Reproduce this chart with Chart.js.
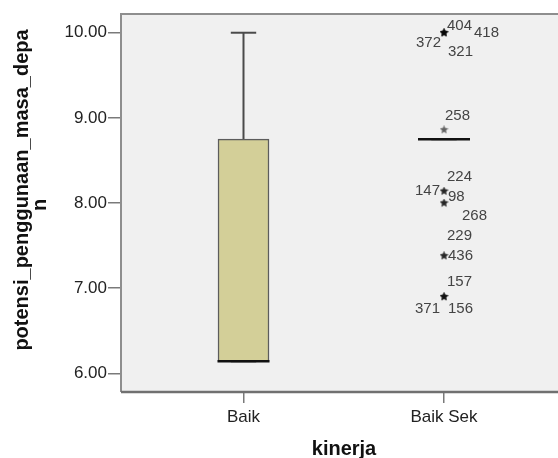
<!DOCTYPE html>
<html>
<head>
<meta charset="utf-8">
<script src="https://cdn.jsdelivr.net/npm/chart.js@4.4.1/dist/chart.umd.min.js"></script>
<style>
  html, body { margin: 0; padding: 0; background: #fff; }
  #wrap { width: 558px; height: 458px; }
</style>
</head>
<body>
<div id="wrap"><canvas id="boxChart" width="558" height="458"></canvas></div>
<script>
// Box plot data
const categories = ['Baik', 'Baik Sek'];
const minValues = [6.14, 8.75];
const q1Values = [6.14, 8.75];
const medianValues = [6.14, 8.75];
const q3Values = [8.75, 8.75];
const maxValues = [10.00, 8.75];
const yTicks = [6, 7, 8, 9, 10];

// extreme cases (stars) for Baik Sek
const outlierGroup = [1, 1, 1, 1, 1, 1, 1, 1, 1, 1, 1, 1, 1, 1];
const outlierValues = [10, 10, 10, 10, 8.86, 8.14, 8.14, 8.0, 8.0, 7.38, 7.38, 6.9, 6.9, 6.9];
const outlierIds = ['404', '418', '372', '321', '258', '224', '147', '98', '268', '229', '436', '157', '371', '156'];

// where each case label sits relative to its star (px)
const labelPlace = [
    [3, -7, 'left'], [30, 0, 'left'], [-3, 10, 'right'], [4, 19, 'left'],
    [1, -14, 'left'],
    [3, -14, 'left'], [-4, 0, 'right'],
    [4, -6, 'left'], [18, 13, 'left'],
    [3, -20, 'left'], [4, 0, 'left'],
    [3, -15, 'left'], [-4, 12, 'right'], [4, 12, 'left']
];

const tickFont = { family: "'Liberation Sans', Arial, sans-serif", size: 17 };
const titleFont = "bold 20px 'Liberation Sans', Arial, sans-serif";

function makeStar(size, color) {
    const c = document.createElement('canvas');
    c.width = size;
    c.height = size;
    const g = c.getContext('2d');
    const R = size / 2, r = R * 0.45;
    g.beginPath();
    for (let i = 0; i < 10; i++) {
        const rad = i % 2 ? r : R;
        const a = -Math.PI / 2 + i * Math.PI / 5;
        g.lineTo(R + rad * Math.cos(a), R + rad * Math.sin(a));
    }
    g.closePath();
    g.fillStyle = color;
    g.fill();
    return c;
}
const starImg = makeStar(9, 'rgba(0,0,0,0.6)');

const whiskerSets = categories.flatMap((c, i) => [
    [{ x: i, y: q3Values[i] }, { x: i, y: maxValues[i] }],
    [{ x: i, y: minValues[i] }, { x: i, y: q1Values[i] }]
]).map(pts => ({
    type: 'line',
    data: pts,
    borderColor: '#4a4a4a',
    borderWidth: 2,
    pointRadius: 0,
    order: 4
}));

function zeroPadding(s) {
    s.paddingTop = 0;
    s.paddingBottom = 0;
    s.paddingLeft = 0;
    s.paddingRight = 0;
}

const plotDecor = {
    id: 'plotDecor',
    beforeDraw(chart) {
        const { ctx, chartArea: a } = chart;
        ctx.save();
        ctx.fillStyle = '#fff';
        ctx.fillRect(0, 0, chart.width, chart.height);
        ctx.fillStyle = '#f0f0f0';
        ctx.fillRect(a.left, a.top, a.right - a.left + 2, a.bottom - a.top);
        ctx.restore();
    },
    afterDatasetsDraw(chart) {
        const { ctx, chartArea: a, scales } = chart;
        ctx.save();
        // case labels
        ctx.font = "15px 'Liberation Sans', Arial, sans-serif";
        ctx.fillStyle = '#444';
        ctx.textBaseline = 'middle';
        outlierIds.forEach((id, i) => {
            const px = scales.x.getPixelForValue(outlierGroup[i]);
            const py = scales.y.getPixelForValue(outlierValues[i]);
            const p = labelPlace[i];
            ctx.textAlign = p[2];
            ctx.fillText(id, px + p[0], py + p[1]);
        });
        // frame
        ctx.strokeStyle = '#8e8e8e';
        ctx.lineWidth = 2;
        ctx.beginPath();
        ctx.moveTo(a.right + 2, a.top);
        ctx.lineTo(a.left, a.top);
        ctx.lineTo(a.left, a.bottom);
        ctx.stroke();
        ctx.strokeStyle = '#707070';
        ctx.lineWidth = 2.5;
        ctx.beginPath();
        ctx.moveTo(a.left, a.bottom);
        ctx.lineTo(a.right + 2, a.bottom);
        ctx.stroke();
        ctx.restore();
    },
    afterDraw(chart) {
        const { ctx, chartArea: a } = chart;
        ctx.save();
        ctx.font = titleFont;
        ctx.fillStyle = '#111';
        ctx.textAlign = 'center';
        ctx.textBaseline = 'alphabetic';
        ctx.fillText('kinerja', (a.left + a.right) / 2 + 5, 455);
        ctx.translate(28, 190);
        ctx.rotate(-Math.PI / 2);
        ctx.fillText('potensi_penggunaan_masa_depa', 0, 0);
        ctx.fillText('n', -15, 18);
        ctx.restore();
    }
};

new Chart(document.getElementById('boxChart'), {
    type: 'bar',
    data: {
        datasets: [
            {
                type: 'line',
                showLine: false,
                data: outlierValues.map((v, i) => ({ x: outlierGroup[i], y: v })),
                pointStyle: starImg,
                pointRadius: 5,
                order: 0
            },
            {
                type: 'line',
                showLine: false,
                data: medianValues.map((v, i) => ({ x: i, y: v })),
                pointStyle: 'line',
                pointRadius: 26,
                borderColor: '#111',
                pointBorderWidth: 2.5,
                order: 1
            },
            {
                type: 'line',
                showLine: false,
                data: categories.flatMap((c, i) => [{ x: i, y: maxValues[i] }, { x: i, y: minValues[i] }]),
                pointStyle: 'line',
                pointRadius: 12.7,
                borderColor: '#4a4a4a',
                pointBorderWidth: 2,
                order: 2
            },
            {
                type: 'bar',
                data: categories.map((c, i) => ({ x: i, y: [q1Values[i], q3Values[i]] })),
                backgroundColor: '#d3cf98',
                borderColor: '#5c5c5c',
                borderWidth: 1.5,
                borderSkipped: false,
                barThickness: 51,
                order: 3
            },
            ...whiskerSets
        ]
    },
    options: {
        responsive: false,
        devicePixelRatio: 1,
        animation: false,
        layout: { autoPadding: false, padding: { top: 14, right: 1, left: 0, bottom: 0 } },
        plugins: {
            legend: { display: false },
            tooltip: { enabled: false }
        },
        scales: {
            x: {
                type: 'linear',
                offset: false,
                min: -0.611,
                max: 1.5636,
                afterBuildTicks: s => { s.ticks = categories.map((c, i) => ({ value: i })); },
                afterFit: s => { s.height = 66; zeroPadding(s); },
                ticks: {
                    callback: v => categories[v],
                    font: tickFont,
                    color: '#222',
                    padding: 4,
                    autoSkip: false,
                    maxRotation: 0
                },
                grid: { offset: false, drawOnChartArea: false, tickLength: 11, color: '#7a7a7a', lineWidth: 1.5 },
                border: { display: false }
            },
            y: {
                min: 5.78,
                max: 10.22,
                afterBuildTicks: s => { s.ticks = yTicks.map(v => ({ value: v })); },
                afterFit: s => { s.width = 121; zeroPadding(s); },
                ticks: {
                    callback: v => v.toFixed(2),
                    font: tickFont,
                    color: '#222',
                    padding: 1
                },
                grid: { drawOnChartArea: false, tickLength: 13, color: '#7a7a7a', lineWidth: 1.5 },
                border: { display: false }
            }
        }
    },
    plugins: [plotDecor]
});
</script>
</body>
</html>
